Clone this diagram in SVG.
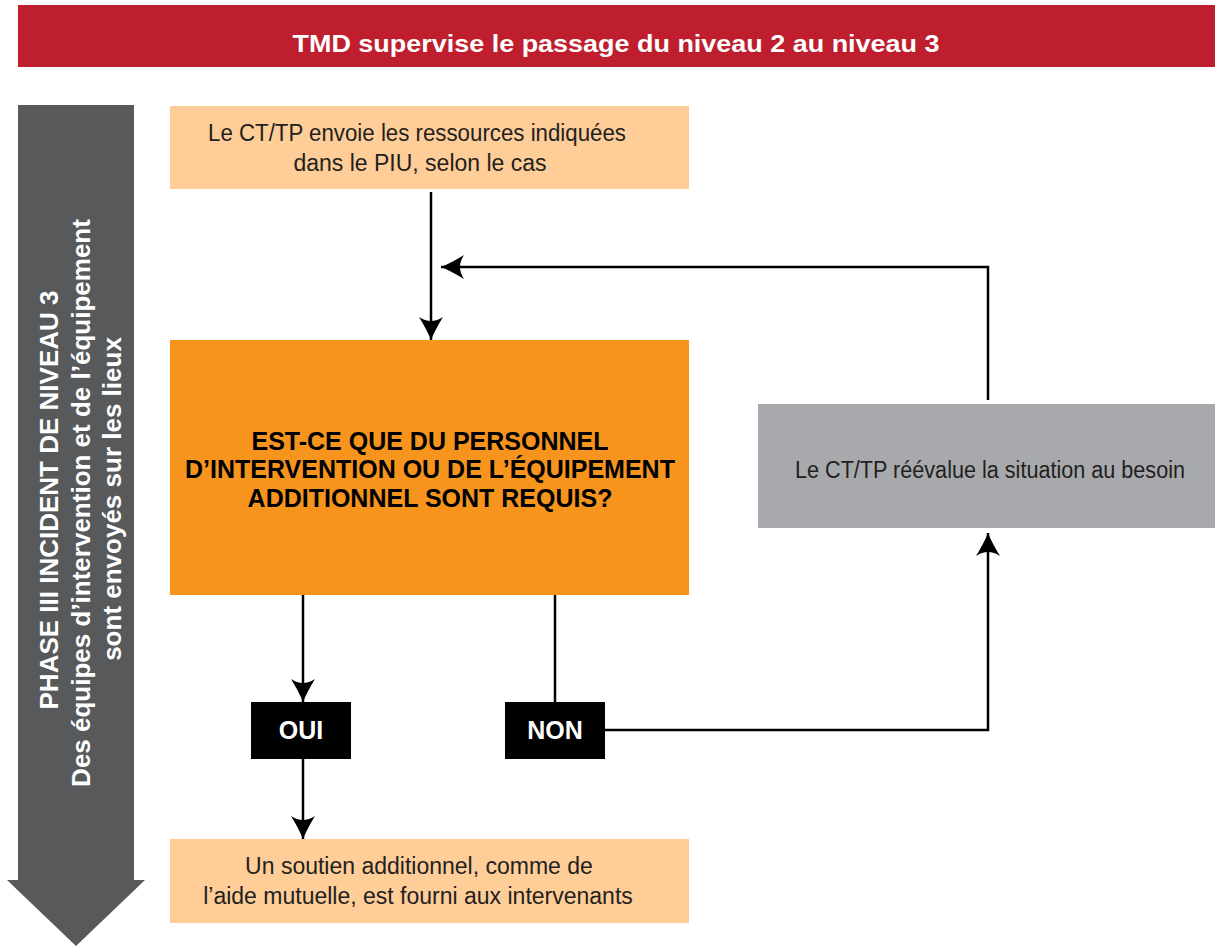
<svg xmlns="http://www.w3.org/2000/svg" width="1217" height="946" viewBox="0 0 1217 946">
<style>
.body{font-family:"Liberation Sans",Arial,sans-serif;font-size:23px;fill:#231F20;text-anchor:middle}
.bold{font-family:"Liberation Sans",Arial,sans-serif;font-weight:bold;text-anchor:middle}
.white{fill:#FFFFFF}
.conn{fill:none;stroke:#000;stroke-width:2.5}
</style>
<defs>
<marker id="arr" markerUnits="userSpaceOnUse" viewBox="-25 -15 30 30" markerWidth="30" markerHeight="30" refX="0" refY="0" orient="auto">
<path d="M0,0 Q-10,-4 -23,-12 Q-15,0 -23,12 Q-10,4 0,0 Z" fill="#000"/>
</marker>
</defs>
<rect width="1217" height="946" fill="#FFFFFF"/>

<g id="title">
<rect x="18" y="5" width="1197" height="62" fill="#BE1E2D"/>
<text class="bold white" x="616" y="52" font-size="24" textLength="647" lengthAdjust="spacingAndGlyphs">TMD supervise le passage du niveau 2 au niveau 3</text>
</g>

<g id="phase">
<polygon points="18,105 134,105 134,880 145,880 76,946 7,880 18,880" fill="#58595B"/>
<text class="bold white" font-size="26" transform="translate(58,500) rotate(-90)">PHASE III INCIDENT DE NIVEAU 3</text>
<text class="bold white" font-size="26" transform="translate(90,503) rotate(-90)">Des équipes d’intervention et de l’équipement</text>
<text class="bold white" font-size="26" transform="translate(121,499) rotate(-90)">sont envoyés sur les lieux</text>
</g>

<g id="connectors">
<path class="conn" d="M431,192 V340" marker-end="url(#arr)"/>
<path class="conn" d="M988,400 V267 H441" marker-end="url(#arr)"/>
<path class="conn" d="M303,595 V702" marker-end="url(#arr)"/>
<path class="conn" d="M555,595 V702"/>
<path class="conn" d="M605,730 H988 V533" marker-end="url(#arr)"/>
<path class="conn" d="M303,759 V839" marker-end="url(#arr)"/>
</g>

<g id="node-envoi">
<rect x="170" y="106" width="519" height="83" fill="#FECD98"/>
<text class="body" x="417" y="141" textLength="418" lengthAdjust="spacingAndGlyphs">Le CT/TP envoie les ressources indiquées</text>
<text class="body" x="420" y="171">dans le PIU, selon le cas</text>
</g>

<g id="node-question">
<rect x="170" y="340" width="519" height="255" fill="#F7941E"/>
<text class="bold" font-size="25" fill="#000" x="430" y="449.5">EST-CE QUE DU PERSONNEL</text>
<text class="bold" font-size="25" fill="#000" x="430" y="478">D’INTERVENTION OU DE L’ÉQUIPEMENT</text>
<text class="bold" font-size="25" fill="#000" x="430" y="506.5">ADDITIONNEL SONT REQUIS?</text>
</g>

<g id="node-reevalue">
<rect x="758" y="404" width="457" height="124" fill="#A7A9AC"/>
<text class="body" x="990" y="478" font-size="22" textLength="390" lengthAdjust="spacingAndGlyphs">Le CT/TP réévalue la situation au besoin</text>
</g>

<g id="node-oui">
<rect x="251" y="702" width="100" height="57" fill="#000"/>
<text class="bold white" font-size="25" x="301" y="739">OUI</text>
</g>

<g id="node-non">
<rect x="505" y="702" width="100" height="57" fill="#000"/>
<text class="bold white" font-size="25" x="555" y="739">NON</text>
</g>

<g id="node-soutien">
<rect x="170" y="839" width="519" height="84" fill="#FECD98"/>
<text class="body" x="419" y="874">Un soutien additionnel, comme de</text>
<text class="body" x="418" y="904">l’aide mutuelle, est fourni aux intervenants</text>
</g>
</svg>
